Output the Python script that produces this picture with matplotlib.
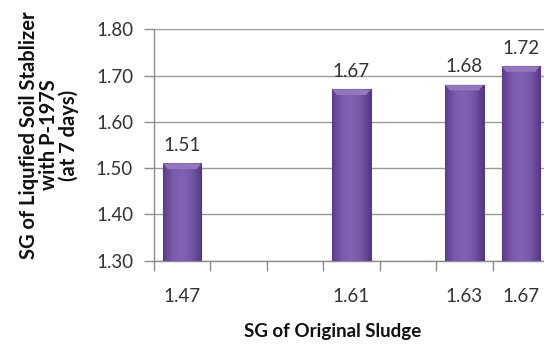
import numpy as np
import matplotlib.pyplot as plt
from matplotlib.colors import LinearSegmentedColormap

# SG of original sludge (category labels) and SG of stabilised soil
slots = ["1.47", "", "", "1.61", "", "1.63", "1.67"]
sludge_sg = ["1.47", "1.61", "1.63", "1.67"]
stab_sg = [1.51, 1.67, 1.68, 1.72]
y_ticks = [1.30, 1.40, 1.50, 1.60, 1.70, 1.80]

plt.rcParams['font.family'] = ['Lato', 'DejaVu Sans']

fig = plt.figure(figsize=(5.44, 3.45), dpi=100)
ax = fig.add_axes([154 / 544, 1 - 260.7 / 345, (549 - 154) / 544, (260.7 - 29.3) / 345])

pos = [slots.index(s) for s in sludge_sg]
bars = ax.bar(pos, [v - y_ticks[0] for v in stab_sg], bottom=y_ticks[0], width=0.68,
              color="#7656a6", edgecolor="#5a3d86", linewidth=0.8, zorder=3)

# horizontal shading on each bar
shade = LinearSegmentedColormap.from_list("shade", ["#5b3e8a", "#7a5aad", "#8262b4", "#7456a6", "#553883"])
grad = np.linspace(0, 1, 64).reshape(1, -1)
for b in bars:
    x0, w = b.get_x(), b.get_width()
    y0, h = b.get_y(), b.get_height()
    ax.imshow(grad, cmap=shade, extent=[x0, x0 + w, y0, y0 + h], aspect="auto", zorder=4)
    # soft bevel at the top
    ax.fill([x0, x0 + w, x0 + w * 0.88, x0 + w * 0.12], [y0 + h, y0 + h, y0 + h - 0.012, y0 + h - 0.012],
            color="#9178bd", lw=0, zorder=5)
    ax.annotate(f"{y0 + h:.2f}", (x0 + w / 2, y0 + h), xytext=(0, 7),
                textcoords="offset points", ha="center", va="bottom",
                fontsize=13.5, color="#333333", zorder=6)

ax.set_xlim(-0.5, len(slots) - 0.5)
ax.set_ylim(y_ticks[0], y_ticks[-1])
ax.set_yticks(y_ticks)
ax.set_yticklabels([f"{t:.2f}" for t in y_ticks], fontsize=13.5, color="#333333")
ax.set_xticks(range(len(slots)))
ax.set_xticklabels(slots, fontsize=13.5, color="#333333")
ax.tick_params(axis="x", length=0, pad=20)
ax.set_xticks(np.arange(-0.5, len(slots), 1.0), minor=True)
ax.tick_params(axis="x", which="minor", length=7, color="#8c8c8c", width=1)
ax.tick_params(axis="y", length=7, color="#8c8c8c", width=1, pad=8)

ax.grid(axis="y", color="#9a9a9a", linewidth=1, zorder=0)
ax.set_axisbelow(True)
for s in ["top", "right"]:
    ax.spines[s].set_visible(False)
for s in ["left", "bottom"]:
    ax.spines[s].set_color("#8c8c8c")
    ax.spines[s].set_linewidth(1)

fig.text(333 / 544, 1 - 331 / 345, "SG of Original Sludge", ha="center", va="center",
         fontsize=13.5, fontweight="bold", color="#111111")
fig.text(49 / 544, 1 - 135 / 345, "SG of Liqufied Soil Stablizer\nwith P-197S\n(at 7 days)",
         ha="center", va="center", rotation=90, fontsize=14.5, fontweight="bold",
         color="#111111", linespacing=1.0)

fig.savefig("out.png", dpi=100)
